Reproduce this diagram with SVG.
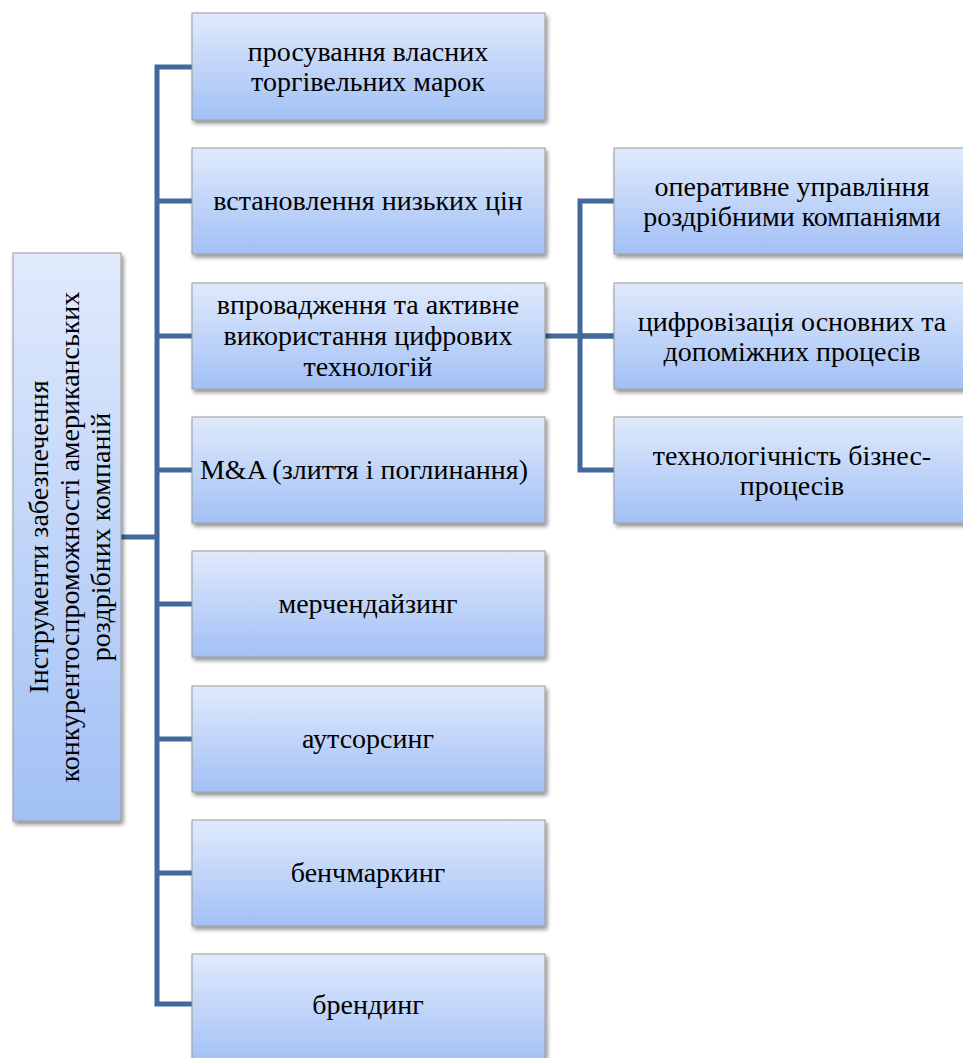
<svg xmlns="http://www.w3.org/2000/svg" width="963" height="1058" viewBox="0 0 963 1058">
<defs>
<linearGradient id="g" x1="0" y1="0" x2="0" y2="1">
<stop offset="0" stop-color="#e0eafc"/>
<stop offset="1" stop-color="#a2c0f5"/>
</linearGradient>
<filter id="sh" x="-10%" y="-10%" width="130%" height="130%">
<feGaussianBlur in="SourceAlpha" stdDeviation="2"/>
<feOffset dx="2" dy="3" result="b"/>
<feComponentTransfer><feFuncA type="linear" slope="0.45"/></feComponentTransfer>
<feMerge><feMergeNode/><feMergeNode in="SourceGraphic"/></feMerge>
</filter>
</defs>
<style>
.box{fill:url(#g);stroke:#9a9a9a;stroke-width:1;filter:url(#sh)}
.t{font-family:'Liberation Serif','Times New Roman',serif;font-size:28px;fill:#000;text-anchor:middle}
.c{fill:none;stroke:#41699c;stroke-width:5}
</style>
<rect width="963" height="1058" fill="#fff"/>
<g id="connectors">
<path class="c" d="M121,537 H157"/>
<path class="c" d="M192,67 H157 V1004 H192"/>
<path class="c" d="M157,201 H192 M157,336 H192 M157,470 H192 M157,604 H192 M157,739 H192 M157,873 H192"/>
<path class="c" d="M545,336 H614"/>
<path class="c" d="M614,201 H580 V470 H614 M580,336 H614"/>
</g>
<g id="root">
<rect class="box" x="13" y="253" width="108" height="568"/>
<g transform="translate(67,537) rotate(-90)">
<text class="t" x="0" y="-19">Інструменти забезпечення</text>
<text class="t" x="0" y="12">конкурентоспроможності американських</text>
<text class="t" x="0" y="43">роздрібних компаній</text>
</g>
</g>
<g id="n1"><rect class="box" x="192" y="13" width="353" height="107"/>
<text class="t" x="368" y="61">просування власних</text><text class="t" x="368" y="91">торгівельних марок</text></g>
<g id="n2"><rect class="box" x="192" y="148" width="353" height="106"/>
<text class="t" x="368" y="210">встановлення низьких цін</text></g>
<g id="n3"><rect class="box" x="192" y="283" width="353" height="106"/>
<text class="t" x="368" y="314">впровадження та активне</text><text class="t" x="368" y="345">використання цифрових</text><text class="t" x="368" y="376">технологій</text></g>
<g id="n4"><rect class="box" x="192" y="417" width="353" height="106"/>
<text class="t" x="364" y="479">M&amp;A (злиття і поглинання)</text></g>
<g id="n5"><rect class="box" x="192" y="551" width="353" height="106"/>
<text class="t" x="368" y="613">мерчендайзинг</text></g>
<g id="n6"><rect class="box" x="192" y="686" width="353" height="106"/>
<text class="t" x="368" y="748">аутсорсинг</text></g>
<g id="n7"><rect class="box" x="192" y="820" width="353" height="106"/>
<text class="t" x="368" y="882">бенчмаркинг</text></g>
<g id="n8"><rect class="box" x="192" y="954" width="353" height="110"/>
<text class="t" x="368" y="1014">брендинг</text></g>
<g id="s1"><rect class="box" x="614" y="148" width="355" height="106"/>
<text class="t" x="792" y="196">оперативне управління</text><text class="t" x="792" y="226">роздрібними компаніями</text></g>
<g id="s2"><rect class="box" x="614" y="283" width="355" height="106"/>
<text class="t" x="792" y="331">цифровізація основних та</text><text class="t" x="792" y="361">допоміжних процесів</text></g>
<g id="s3"><rect class="box" x="614" y="417" width="355" height="106"/>
<text class="t" x="792" y="465">технологічність бізнес-</text><text class="t" x="792" y="495">процесів</text></g>
</svg>
